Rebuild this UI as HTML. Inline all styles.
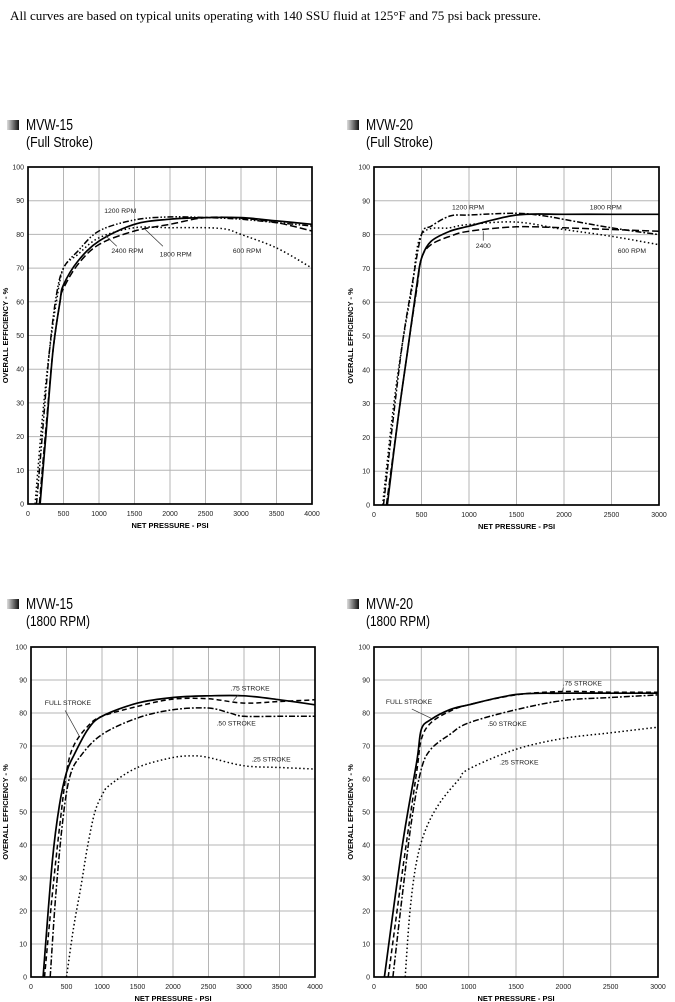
<!DOCTYPE html>
<html><head><meta charset="utf-8"><title>MVW efficiency curves</title>
<style>
html,body{margin:0;padding:0;background:#fff;}
svg{display:block;}
</style></head>
<body>
<svg id="page" xmlns="http://www.w3.org/2000/svg" width="675" height="1002" viewBox="0 0 675 1002">
<defs>
<linearGradient id="ig" x1="0" x2="1" y1="0" y2="0"><stop offset="0" stop-color="#ddd"/><stop offset="1" stop-color="#111"/></linearGradient>
</defs>
<text x="10" y="20" font-family="Liberation Serif, serif" font-size="13" textLength="531" lengthAdjust="spacingAndGlyphs">All curves are based on typical units operating with 140 SSU fluid at 125°F and 75 psi back pressure.</text>
</svg>
<script>
// ---- Chart 1: MVW-15 Full Stroke ----
const c1Ticks = [0,500,1000,1500,2000,2500,3000,3500,4000];
const c1_1200x = [120,200,300,400,500,700,1000,1500,2000,2500,3000,3500,4000];
const c1_1200y = [0,20,45,62,70,75,81,84.3,85.2,85,84.5,83.5,82.5];
const c1_1800x = [170,250,350,450,500,700,1000,1500,2000,2500,3000,3500,4000];
const c1_1800y = [0,20,45,60,65,72,78,83,84.5,85,85,84,83];
const c1_2400x = [160,250,350,450,500,700,1000,1500,2000,2500,3000,3500,4000];
const c1_2400y = [0,22,45,60,64,71,77,81,83,85,84.8,83.5,81];
const c1_600x = [100,200,300,400,500,700,1000,1500,2000,2500,2800,3000,3500,4000];
const c1_600y = [0,25,45,60,70,74,79,82,82,82,81.5,80,76,70];

// ---- Chart 2: MVW-20 Full Stroke ----
const c2Ticks = [0,500,1000,1500,2000,2500,3000];
const c2_1200x = [100,200,300,400,500,600,800,1000,1500,1800,2000,2500,3000];
const c2_1200y = [0,25,48,65,80,82.5,85.5,85.8,86.3,85.5,84.5,82,80];
const c2_1800x = [140,250,350,450,500,600,800,1000,1500,2000,2500,3000];
const c2_1800y = [0,25,45,65,73,78,81,82.5,85.8,86,86,86];
const c2_2400x = [130,250,350,450,500,600,800,1000,1500,2000,2500,3000];
const c2_2400y = [0,25,45,64,73,77,79.5,81,82.3,82,81.5,81];
const c2_600x = [90,200,300,400,500,800,1000,1500,2000,2500,3000];
const c2_600y = [0,28,48,64,80,82,83,83.7,81.5,79.5,77];

// ---- Chart 3: MVW-15 1800 RPM ----
const c3Ticks = [0,500,1000,1500,2000,2500,3000,3500,4000];
const c3_fullx = [170,300,400,500,600,800,1000,1500,2000,2500,3000,3500,4000];
const c3_fully = [0,35,52,62,67,75,79,83,84.7,85.2,85.2,84,82.5];
const c3_75x = [190,300,400,500,600,800,1000,1500,2000,2500,3000,3500,4000];
const c3_75y = [0,25,45,62,70,76,79,82,84.2,84.3,83,83.5,84];
const c3_50x = [270,350,450,550,700,1000,1500,2000,2500,2800,3000,3500,4000];
const c3_50y = [0,25,48,61,67,73.5,78.5,81,81.5,80,79,79,79];
const c3_25x = [500,600,700,800,900,1000,1100,1500,2000,2300,2500,3000,3500,4000];
const c3_25y = [0,15,27,40,50,55,58,63.5,66.5,67,66.5,64,63.5,63];

// ---- Chart 4: MVW-20 1800 RPM ----
const c4Ticks = [0,500,1000,1500,2000,2500,3000];
const c4_fullx = [110,300,450,500,600,800,1000,1500,2000,2500,3000];
const c4_fully = [0,40,65,75,78,81,82.5,85.6,86,86,86];
const c4_75x = [150,300,450,500,600,800,1000,1500,2000,2500,3000];
const c4_75y = [0,32,62,72,77,80.5,82.5,85.5,86.5,86.3,86.3];
const c4_50x = [200,300,400,500,600,800,1000,1500,2000,2500,3000];
const c4_50y = [0,25,48,63,69,73.5,77,81,83.8,84.7,85.5];
const c4_25x = [330,380,450,550,700,900,1000,1500,2000,2500,3000];
const c4_25y = [0,20,35,45,53,60,63,69,72.3,74,75.7];

const yTicks = [0,10,20,30,40,50,60,70,80,90,100];

const NS = 'http://www.w3.org/2000/svg';
const svg = document.getElementById('page');
const DASH = {solid:null, longdash:'7,3', dashdotdot:'6,2,1.5,2,1.5,2', dotted:'1.5,2.5', dashdot:'6,2,1.8,2', dash:'5,3'};

function mk(tag, attrs, parent){
  const e = document.createElementNS(NS, tag);
  for (const k in attrs) e.setAttribute(k, attrs[k]);
  (parent||svg).appendChild(e);
  return e;
}

function smoothPath(P){
  let d = 'M' + P[0][0].toFixed(1) + ',' + P[0][1].toFixed(1);
  for (let i = 0; i < P.length-1; i++){
    const p0 = P[i-1] || P[i], p1 = P[i], p2 = P[i+1], p3 = P[i+2] || P[i+1];
    const c1x = p1[0] + (p2[0]-p0[0])/6, c1y = p1[1] + (p2[1]-p0[1])/6;
    const c2x = p2[0] - (p3[0]-p1[0])/6, c2y = p2[1] - (p3[1]-p1[1])/6;
    d += ' C' + c1x.toFixed(1)+','+c1y.toFixed(1)+' '+c2x.toFixed(1)+','+c2y.toFixed(1)+' '+p2[0].toFixed(1)+','+p2[1].toFixed(1);
  }
  return d;
}

function chart(cfg){
  const g = mk('g', {});
  
  
  const xMax = cfg.ticks[cfg.ticks.length-1];
  const sx = v => cfg.L + (v/xMax)*(cfg.R-cfg.L);
  const sy = v => cfg.B - (v/100)*(cfg.B-cfg.T);
  const ic = mk('rect', {x:cfg.tx-19, y:cfg.ty-10, width:12, height:10, fill:'url(#ig)'}, g);
  
  
  const t1 = mk('text', {x:cfg.tx, y:cfg.ty, 'font-family':'Liberation Sans, sans-serif', 'font-size':'16', textLength:cfg.w1, lengthAdjust:'spacingAndGlyphs'}, g);
  t1.textContent = cfg.title;
  
  
  const t2 = mk('text', {x:cfg.tx, y:cfg.ty+17, 'font-family':'Liberation Sans, sans-serif', 'font-size':'14.5', textLength:cfg.w2, lengthAdjust:'spacingAndGlyphs'}, g);
  t2.textContent = cfg.sub;
  
  
  cfg.ticks.forEach(v => {
    const l = mk('line', {x1:sx(v), x2:sx(v), y1:cfg.T, y2:cfg.B, stroke:'#b5b5b5', 'stroke-width':'1'}, g);
    
    
    const tl = mk('text', {x:sx(v), y:cfg.B+12, 'text-anchor':'middle', 'font-family':'Liberation Sans, sans-serif', 'font-size':'7', fill:'#222'}, g);
    tl.textContent = v;
    
    
  });
  yTicks.forEach(v => {
    const l = mk('line', {x1:cfg.L, x2:cfg.R, y1:sy(v), y2:sy(v), stroke:'#b5b5b5', 'stroke-width':'1'}, g);
    
    
    const tl = mk('text', {x:cfg.L-4, y:sy(v)+2.5, 'text-anchor':'end', 'font-family':'Liberation Sans, sans-serif', 'font-size':'7', fill:'#222'}, g);
    tl.textContent = v;
    
    
  });
  const fr = mk('rect', {x:cfg.L, y:cfg.T, width:cfg.R-cfg.L, height:cfg.B-cfg.T, fill:'none', stroke:'#000', 'stroke-width':'1.7'}, g);
  
  
  const xt = mk('text', {x:(cfg.L+cfg.R)/2, y:cfg.B+24, 'text-anchor':'middle', 'font-family':'Liberation Sans, sans-serif', 'font-size':'7.5', 'font-weight':'bold'}, g);
  xt.textContent = 'NET PRESSURE - PSI';
  
  
  const yc = (cfg.T+cfg.B)/2;
  const yt = mk('text', {x:cfg.yx, y:yc, 'text-anchor':'middle', 'font-family':'Liberation Sans, sans-serif', 'font-size':'7.5', 'font-weight':'bold', transform:'rotate(-90 '+cfg.yx+' '+yc+')'}, g);
  yt.textContent = 'OVERALL EFFICIENCY - %';
  
  
  cfg.series.forEach(s => {
    const P = s.x.map((v,i) => [sx(v), sy(s.y[i])]);
    const a = {d:smoothPath(P), fill:'none', stroke:'#000', 'stroke-width': s.style==='solid'?'1.7':'1.5', 'stroke-linejoin':'round'};
    if (DASH[s.style]) a['stroke-dasharray'] = DASH[s.style];
    const p = mk('path', a, g);
    
    
  });
  cfg.labels.forEach(lb => {
    if (lb.lx !== undefined) {
      const ln = mk('line', {x1:sx(lb.lx[0]), y1:sy(lb.ly[0]), x2:sx(lb.lx[1]), y2:sy(lb.ly[1]), stroke:'#333', 'stroke-width':'0.7'}, g);
      
      
    }
    const tx = mk('text', {x:sx(lb.x), y:sy(lb.y), 'text-anchor':'middle', 'font-family':'Liberation Sans, sans-serif', 'font-size':'6.8', fill:'#222'}, g);
    tx.textContent = lb.t;
    
    
  });
}

chart({name:'chart-mvw15-full-stroke', L:28, R:312, T:167, B:504, yx:8, tx:26, ty:130, w1:47, w2:67,
  title:'MVW-15', sub:'(Full Stroke)', ticks:c1Ticks,
  series:[
    {name:'line-1200-rpm', x:c1_1200x, y:c1_1200y, style:'dashdotdot'},
    {name:'line-1800-rpm', x:c1_1800x, y:c1_1800y, style:'solid'},
    {name:'line-2400-rpm', x:c1_2400x, y:c1_2400y, style:'longdash'},
    {name:'line-600-rpm', x:c1_600x, y:c1_600y, style:'dotted'}],
  labels:[
    {t:'1200 RPM', x:1300, y:86.3},
    {t:'1800 RPM', x:2080, y:73.5, lx:[1900,1650], ly:[76.5,81.5]},
    {t:'2400 RPM', x:1400, y:74.5, lx:[1250,1100], ly:[76.5,79.5]},
    {t:'600 RPM', x:3085, y:74.5}]
});

chart({name:'chart-mvw20-full-stroke', L:374, R:659, T:167, B:505, yx:353, tx:366, ty:130, w1:47, w2:67,
  title:'MVW-20', sub:'(Full Stroke)', ticks:c2Ticks,
  series:[
    {name:'line-1200-rpm', x:c2_1200x, y:c2_1200y, style:'dashdot'},
    {name:'line-1800-rpm', x:c2_1800x, y:c2_1800y, style:'solid'},
    {name:'line-2400-rpm', x:c2_2400x, y:c2_2400y, style:'longdash'},
    {name:'line-600-rpm', x:c2_600x, y:c2_600y, style:'dotted'}],
  labels:[
    {t:'1200 RPM', x:990, y:87.5},
    {t:'1800 RPM', x:2440, y:87.5},
    {t:'2400', x:1150, y:76, lx:[1150,1150], ly:[81,78.2]},
    {t:'600 RPM', x:2715, y:74.5}]
});

chart({name:'chart-mvw15-1800-rpm', L:31, R:315, T:647, B:977, yx:8, tx:26, ty:609, w1:47, w2:64,
  title:'MVW-15', sub:'(1800 RPM)', ticks:c3Ticks,
  series:[
    {name:'line-full-stroke', x:c3_fullx, y:c3_fully, style:'solid'},
    {name:'line-75-stroke', x:c3_75x, y:c3_75y, style:'dash'},
    {name:'line-50-stroke', x:c3_50x, y:c3_50y, style:'dashdot'},
    {name:'line-25-stroke', x:c3_25x, y:c3_25y, style:'dotted'}],
  labels:[
    {t:'FULL STROKE', x:520, y:82.5, lx:[480,680], ly:[80.8,73]},
    {t:'.75 STROKE', x:3085, y:86.8, lx:[2920,2850], ly:[85.5,83.8]},
    {t:'.50 STROKE', x:2890, y:76.2},
    {t:'.25 STROKE', x:3380, y:65.3}]
});

chart({name:'chart-mvw20-1800-rpm', L:374, R:658, T:647, B:977, yx:353, tx:366, ty:609, w1:47, w2:64,
  title:'MVW-20', sub:'(1800 RPM)', ticks:c4Ticks,
  series:[
    {name:'line-full-stroke', x:c4_fullx, y:c4_fully, style:'solid'},
    {name:'line-75-stroke', x:c4_75x, y:c4_75y, style:'dash'},
    {name:'line-50-stroke', x:c4_50x, y:c4_50y, style:'dashdot'},
    {name:'line-25-stroke', x:c4_25x, y:c4_25y, style:'dotted'}],
  labels:[
    {t:'FULL STROKE', x:370, y:82.8, lx:[400,610], ly:[81.2,78.3]},
    {t:'.75 STROKE', x:2200, y:88.3, lx:[2000,1990], ly:[87.7,86.5]},
    {t:'.50 STROKE', x:1405, y:76.1},
    {t:'.25 STROKE', x:1530, y:64.4}]
});
</script>
</body></html>
